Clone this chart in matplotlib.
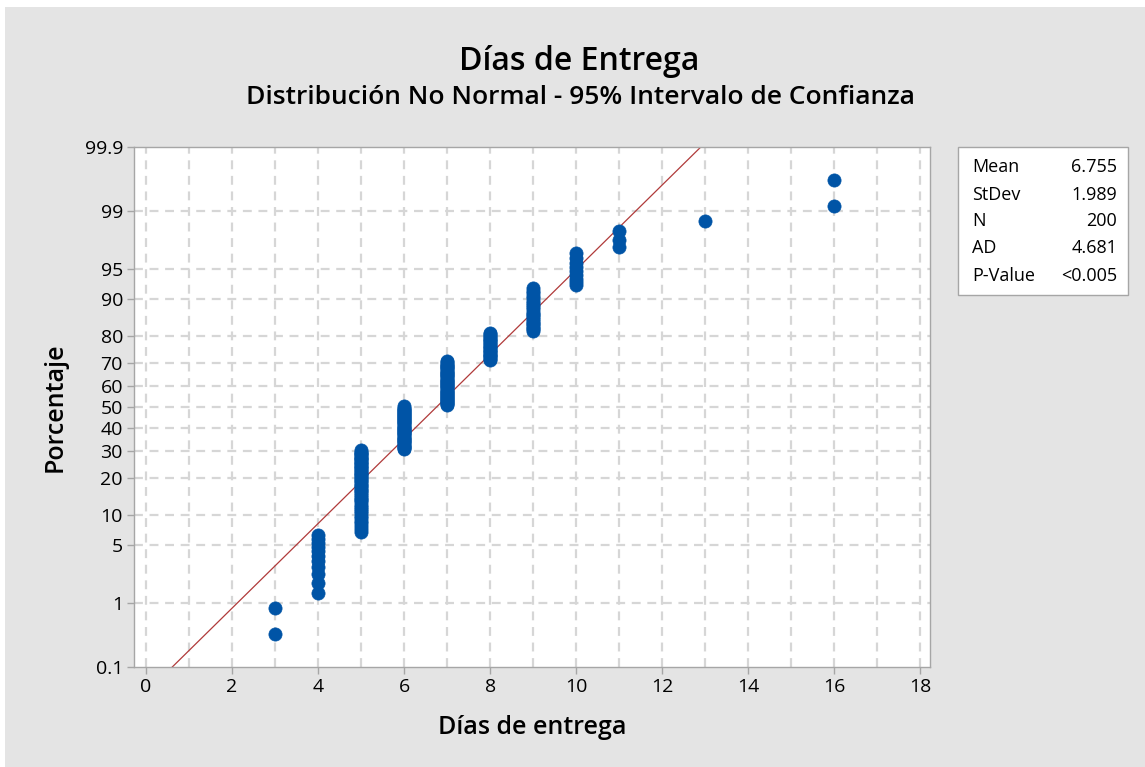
"""Gráfica de probabilidad normal: Días de Entrega (estilo Minitab)."""
from statistics import NormalDist

import matplotlib
matplotlib.use("Agg")
import matplotlib.pyplot as plt
from matplotlib.patches import Rectangle

# datos: valor de días y cuántas observaciones tiene
dias = [3, 4, 5, 6, 7, 8, 9, 10, 11, 13, 16]
conteos = [2, 11, 48, 40, 41, 21, 22, 9, 3, 1, 2]

pct_ticks = [0.1, 1, 5, 10, 20, 30, 40, 50, 60, 70, 80, 90, 95, 99, 99.9]
pct_labels = ["0.1", "1", "5", "10", "20", "30", "40", "50", "60", "70",
              "80", "90", "95", "99", "99.9"]
x_ticks = [0, 2, 4, 6, 8, 10, 12, 14, 16, 18]

stat_names = ["Mean", "StDev", "N", "AD", "P-Value"]
stat_values = ["6.755", "1.989", "200", "4.681", "<0.005"]

BG = "#e4e4e4"
BLUE = "#0054a6"
RED = "#b03a3a"
GRID = "#d6d6d6"
SPINE = "#a6a6a6"
FONT = "Open Sans"

nd = NormalDist()

# ---- observaciones ordenadas + posiciones de graficado (rango mediano) ----
xs = [d for d, c in zip(dias, conteos) for _ in range(c)]
n = len(xs)
zs = [nd.inv_cdf((i - 0.3) / (n + 0.4)) for i in range(1, n + 1)]
mu = sum(xs) / n
sd = (sum((v - mu) ** 2 for v in xs) / (n - 1)) ** 0.5

z_lo, z_hi = nd.inv_cdf(0.001), nd.inv_cdf(0.999)

fig = plt.figure(figsize=(11.45, 7.67), dpi=100, facecolor="white")
fig.patches.append(Rectangle((5 / 1145, 0), 1, 1 - 7 / 767,
                             transform=fig.transFigure, facecolor=BG,
                             edgecolor="none", zorder=-10))

ax = fig.add_axes([134 / 1145, 100 / 767, 796 / 1145, 520 / 767])
ax.set_facecolor("white")

# rejilla discontinua: cada entero en x, cada tick en y
for gx in range(0, 19):
    ax.axvline(gx, color=GRID, lw=1.6, ls=(0, (4, 3)), zorder=0)
for p in pct_ticks[1:-1]:
    ax.axhline(nd.inv_cdf(p / 100), color=GRID, lw=1.6, ls=(0, (4, 3)), zorder=0)

# recta ajustada
ax.plot([mu + sd * z_lo, mu + sd * z_hi], [z_lo, z_hi], color=RED, lw=0.9,
        zorder=2)
ax.plot(xs, zs, "o", color=BLUE, ms=9.5, mec=BLUE, mew=0.5, zorder=3,
        clip_on=False)

ax.set_xlim(-0.28, 18.23)
ax.set_ylim(z_lo, z_hi)
ax.set_xticks(x_ticks)
ax.set_xticklabels([str(t) for t in x_ticks], fontsize=14, family=FONT)
ax.set_yticks([nd.inv_cdf(p / 100) for p in pct_ticks])
ax.set_yticklabels(pct_labels, fontsize=14, family=FONT)
ax.tick_params(length=5, width=1, color=SPINE, pad=3)
for s in ax.spines.values():
    s.set_color(SPINE)
    s.set_linewidth(1)

fig.text(579 / 1145, 1 - 62 / 767, "Días de Entrega", ha="center",
         va="center", fontsize=23, family=FONT, weight="semibold")
fig.text(580 / 1145, 1 - 98 / 767,
         "Distribución No Normal - 95% Intervalo de Confianza", ha="center",
         va="center", fontsize=19, family=FONT, weight="semibold")
fig.text(532 / 1145, 1 - 727 / 767, "Días de entrega", ha="center",
         va="center", fontsize=18, family=FONT, weight="semibold")
fig.text(55 / 1145, 1 - 407 / 767, "Porcentaje", ha="center", va="center",
         rotation=90, fontsize=18, family=FONT, weight="semibold")

# caja de estadísticos
fig.patches.append(Rectangle((958 / 1145, 1 - 295 / 767), 170 / 1145,
                             148 / 767, transform=fig.transFigure,
                             facecolor="white", edgecolor=SPINE, lw=1))
row_y = [167, 195, 221, 248, 276]
for name, val, yy in zip(stat_names, stat_values, row_y):
    fig.text(972 / 1145, 1 - yy / 767, name, ha="left", va="center",
             fontsize=13, family=FONT)
    fig.text(1117 / 1145, 1 - yy / 767, val, ha="right", va="center",
             fontsize=13, family=FONT)

fig.savefig("out.png", dpi=100, facecolor=fig.get_facecolor())
